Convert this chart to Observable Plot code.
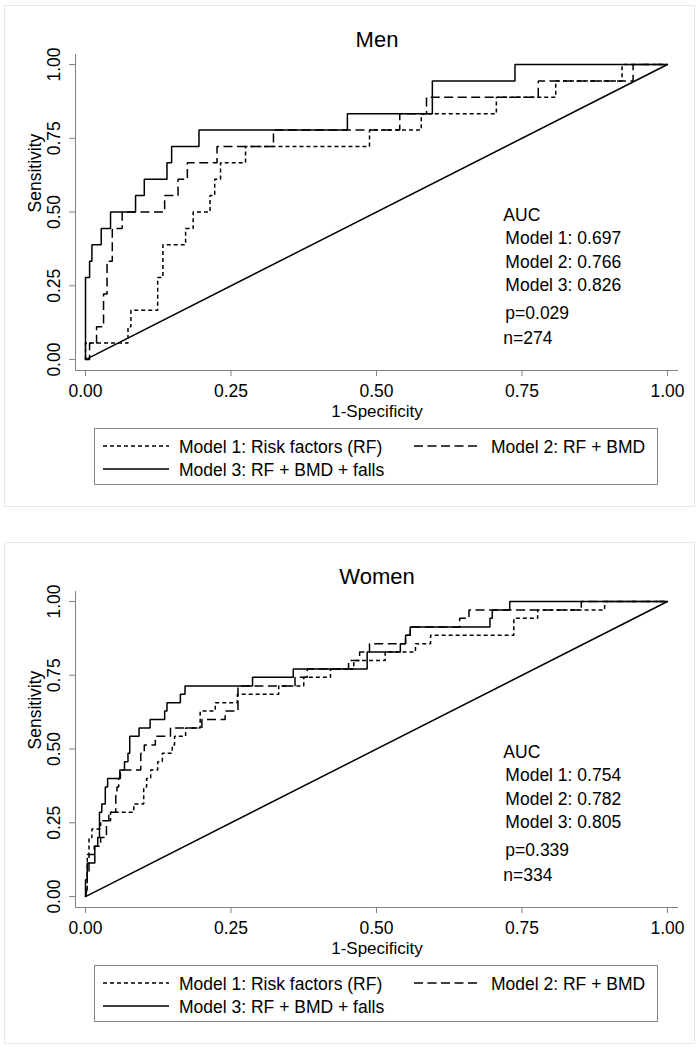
<!DOCTYPE html>
<html>
<head>
<meta charset="utf-8">
<script src="https://cdn.jsdelivr.net/npm/d3@7"></script>
<script src="https://cdn.jsdelivr.net/npm/@observablehq/plot@0.6"></script>
<style>
  body { margin: 0; background: #fff; font-family: "Liberation Sans", Arial, Helvetica, sans-serif; }
  #page { position: relative; width: 700px; height: 1048px; overflow: hidden; }
  .panel { position: absolute; left: 4px; width: 691px; height: 502px; border: 1px solid #e8e8e8; box-sizing: border-box; }
  .chart { position: absolute; left: 0; }
  .legend { position: absolute; left: 94px; width: 564px; height: 57px; border: 1px solid #888; box-sizing: border-box; background: #fff; }
</style>
</head>
<body>
<div id="page"></div>
<script>
// ---------- data ----------
const xTicks = [0, 0.25, 0.5, 0.75, 1];
const yTicks = [0, 0.25, 0.5, 0.75, 1];
const modelLabels = ["Model 1: Risk factors (RF)", "Model 2: RF + BMD", "Model 3: RF + BMD + falls"];
const panelTitles = ["Men", "Women"];
const menAUC = ["0.697", "0.766", "0.826"];
const womenAUC = ["0.754", "0.782", "0.805"];
const pValues = ["0.029", "0.339"];
const nValues = [274, 334];
const diagonal = [[0, 0], [1, 1]];

// ROC vertices [1-specificity, sensitivity]
const menModel1 = [[0,0],[0,0.056],[0.073,0.056],[0.073,0.111],[0.078,0.111],[0.078,0.167],[0.124,0.167],[0.124,0.278],[0.133,0.278],[0.133,0.389],[0.172,0.389],[0.172,0.444],[0.185,0.444],[0.185,0.5],[0.214,0.5],[0.214,0.556],[0.222,0.556],[0.222,0.611],[0.232,0.611],[0.232,0.667],[0.275,0.667],[0.275,0.722],[0.488,0.722],[0.488,0.778],[0.577,0.778],[0.577,0.833],[0.706,0.833],[0.706,0.889],[0.808,0.889],[0.808,0.944],[0.922,0.944],[0.922,1],[1,1]];
const menModel2 = [[0,0],[0.007,0],[0.007,0.056],[0.019,0.056],[0.019,0.111],[0.031,0.111],[0.031,0.222],[0.037,0.222],[0.037,0.333],[0.046,0.333],[0.046,0.444],[0.063,0.444],[0.063,0.5],[0.136,0.5],[0.136,0.556],[0.159,0.556],[0.159,0.611],[0.175,0.611],[0.175,0.667],[0.226,0.667],[0.226,0.722],[0.323,0.722],[0.323,0.778],[0.540,0.778],[0.540,0.833],[0.586,0.833],[0.586,0.889],[0.778,0.889],[0.778,0.944],[0.941,0.944],[0.941,1],[1,1]];
const menModel3 = [[0,0],[0,0.278],[0.007,0.278],[0.007,0.333],[0.011,0.333],[0.011,0.389],[0.027,0.389],[0.027,0.444],[0.043,0.444],[0.043,0.5],[0.086,0.5],[0.086,0.556],[0.101,0.556],[0.101,0.611],[0.140,0.611],[0.140,0.667],[0.148,0.667],[0.148,0.722],[0.195,0.722],[0.195,0.778],[0.450,0.778],[0.450,0.833],[0.596,0.833],[0.596,0.944],[0.738,0.944],[0.738,1],[1,1]];

const womenModel1 = [[0,0],[0.003,0.029],[0.003,0.143],[0.006,0.143],[0.006,0.2],[0.011,0.2],[0.011,0.229],[0.026,0.229],[0.026,0.257],[0.043,0.257],[0.043,0.286],[0.083,0.286],[0.083,0.314],[0.100,0.314],[0.100,0.371],[0.105,0.371],[0.105,0.4],[0.112,0.4],[0.112,0.429],[0.124,0.429],[0.124,0.457],[0.132,0.457],[0.132,0.486],[0.149,0.486],[0.149,0.514],[0.153,0.514],[0.153,0.543],[0.172,0.543],[0.172,0.571],[0.197,0.571],[0.197,0.629],[0.223,0.629],[0.223,0.657],[0.261,0.657],[0.261,0.686],[0.332,0.686],[0.332,0.714],[0.375,0.714],[0.375,0.743],[0.421,0.743],[0.421,0.771],[0.461,0.771],[0.461,0.8],[0.515,0.8],[0.515,0.829],[0.567,0.829],[0.567,0.857],[0.593,0.857],[0.593,0.886],[0.736,0.886],[0.736,0.943],[0.777,0.943],[0.777,0.971],[0.892,0.971],[0.892,1],[1,1]];
const womenModel2 = [[0,0],[0.003,0.029],[0.003,0.086],[0.006,0.086],[0.006,0.143],[0.015,0.143],[0.015,0.171],[0.026,0.171],[0.026,0.2],[0.036,0.2],[0.036,0.257],[0.040,0.257],[0.040,0.286],[0.052,0.286],[0.052,0.343],[0.054,0.343],[0.054,0.371],[0.057,0.371],[0.057,0.4],[0.060,0.4],[0.060,0.429],[0.095,0.429],[0.095,0.486],[0.101,0.486],[0.101,0.514],[0.120,0.514],[0.120,0.543],[0.146,0.543],[0.146,0.571],[0.200,0.571],[0.200,0.6],[0.240,0.6],[0.240,0.629],[0.262,0.629],[0.262,0.714],[0.360,0.714],[0.360,0.743],[0.381,0.743],[0.381,0.771],[0.452,0.771],[0.452,0.8],[0.471,0.8],[0.471,0.829],[0.488,0.829],[0.488,0.857],[0.550,0.857],[0.550,0.886],[0.558,0.886],[0.558,0.914],[0.643,0.914],[0.643,0.943],[0.659,0.943],[0.659,0.971],[0.852,0.971],[0.852,1],[1,1]];
const womenModel3 = [[0,0],[0,0.057],[0.003,0.057],[0.003,0.114],[0.016,0.114],[0.016,0.171],[0.021,0.171],[0.021,0.2],[0.024,0.2],[0.024,0.286],[0.028,0.286],[0.028,0.314],[0.034,0.314],[0.034,0.371],[0.038,0.371],[0.038,0.4],[0.059,0.4],[0.059,0.429],[0.067,0.429],[0.067,0.457],[0.073,0.457],[0.073,0.486],[0.076,0.486],[0.076,0.543],[0.092,0.543],[0.092,0.571],[0.111,0.571],[0.111,0.6],[0.136,0.6],[0.136,0.629],[0.140,0.629],[0.140,0.657],[0.163,0.657],[0.163,0.686],[0.171,0.686],[0.171,0.714],[0.287,0.714],[0.287,0.743],[0.357,0.743],[0.357,0.771],[0.484,0.771],[0.484,0.829],[0.541,0.829],[0.541,0.857],[0.550,0.857],[0.550,0.886],[0.558,0.886],[0.558,0.914],[0.695,0.914],[0.695,0.943],[0.699,0.943],[0.699,0.971],[0.729,0.971],[0.729,1],[1,1]];

// ---------- styles ----------
const FONT = '"Liberation Sans", Arial, Helvetica, sans-serif';
const FS = 17.5;
const AXIS_GRAY = "#808080";
const DASH = ["4,3", "9,4.5", null];
const LW = 1.5;

const page = document.getElementById("page");

function drawPanel(title, curves, auc, p, n, top) {
  const xMin = -0.0172, xMax = 1.019, yMin = -0.037, yMax = 1.034;
  const ax = 0.718, ay = 0.471;
  const fmt = d3.format(".2f");
  const lineSpec = (data, i) => Plot.line(data, {
    x: d => d[0], y: d => d[1], stroke: "#000", strokeWidth: LW,
    strokeDasharray: DASH[i] || undefined, strokeLinejoin: "miter", strokeLinecap: "butt"
  });
  const annot = [
    {t: "AUC", dy: 0, dx: 0},
    {t: `Model 1: ${auc[0]}`, dy: 23, dx: 2},
    {t: `Model 2: ${auc[1]}`, dy: 47, dx: 2},
    {t: `Model 3: ${auc[2]}`, dy: 70, dx: 2},
    {t: `p=${p}`, dy: 98, dx: 2},
    {t: `n=${n}`, dy: 123, dx: 0}
  ];
  const svg = Plot.plot({
    width: 700, height: 425,
    marginLeft: 75, marginRight: 22, marginTop: 54, marginBottom: 55,
    style: {fontFamily: FONT, fontSize: FS + "px", color: "#000", background: "transparent", overflow: "visible"},
    x: {domain: [xMin, xMax]},
    y: {domain: [yMin, yMax]},
    marks: [
      Plot.ruleX([xMin], {y1: yMin, y2: yMax, stroke: AXIS_GRAY, strokeWidth: 1}),
      Plot.ruleY([yMin], {x1: xMin, x2: xMax, stroke: AXIS_GRAY, strokeWidth: 1}),
      Plot.axisX({ticks: xTicks, tickSize: 6, tickPadding: 8.5, tickFormat: fmt, stroke: AXIS_GRAY, fill: "#000", fontSize: FS, label: null}),
      Plot.axisY({ticks: yTicks, tickSize: 6, tickFormat: () => "", stroke: AXIS_GRAY, label: null}),
      Plot.text(yTicks, {x: () => xMin, y: d => d, text: d => fmt(d), rotate: -90, dx: -21.5, fontSize: FS, fill: "#000"}),
      Plot.text(["Sensitivity"], {frameAnchor: "left", rotate: -90, dx: -40, fontSize: FS, fill: "#000"}),
      Plot.text(["1-Specificity"], {frameAnchor: "bottom", lineAnchor: "bottom", dy: 46, fontSize: 17, fill: "#000"}),
      Plot.text([title], {frameAnchor: "top", lineAnchor: "bottom", dy: -8, fontSize: 22, fill: "#000"}),
      Plot.line(diagonal, {x: d => d[0], y: d => d[1], stroke: "#000", strokeWidth: LW}),
      lineSpec(curves[0], 0),
      lineSpec(curves[1], 1),
      lineSpec(curves[2], 2),
      ...annot.map(a => Plot.text([a.t], {x: () => ax, y: () => ay, dx: a.dx, dy: a.dy, textAnchor: "start", lineAnchor: "bottom", fontSize: FS, fill: "#000"}))
    ]
  });
  const box = document.createElement("div");
  box.className = "panel";
  box.style.top = (top + 5) + "px";
  page.appendChild(box);
  const holder = document.createElement("div");
  holder.className = "chart";
  holder.style.top = top + "px";
  holder.appendChild(svg);
  page.appendChild(holder);

  // legend (below the chart)
  const leg = document.createElement("div");
  leg.className = "legend";
  leg.style.top = (top + 428) + "px";
  const ls = d3.create("svg").attr("width", 562).attr("height", 55)
    .style("font-family", FONT).style("font-size", FS + "px");
  const items = [
    {x: 8, y: 17, tx: 84, ty: 24},
    {x: 319, y: 17, tx: 396, ty: 24},
    {x: 8, y: 40, tx: 84, ty: 47}
  ];
  items.forEach((it, i) => {
    ls.append("line").attr("x1", it.x).attr("x2", it.x + 66).attr("y1", it.y).attr("y2", it.y)
      .attr("stroke", "#000").attr("stroke-width", 1.3)
      .attr("stroke-dasharray", DASH[i]);
    ls.append("text").attr("x", it.tx).attr("y", it.ty).attr("fill", "#000").text(modelLabels[i]);
  });
  leg.appendChild(ls.node());
  page.appendChild(leg);
}

drawPanel(panelTitles[0], [menModel1, menModel2, menModel3], menAUC, pValues[0], nValues[0], 0);
drawPanel(panelTitles[1], [womenModel1, womenModel2, womenModel3], womenAUC, pValues[1], nValues[1], 537);
</script>
</body>
</html>
